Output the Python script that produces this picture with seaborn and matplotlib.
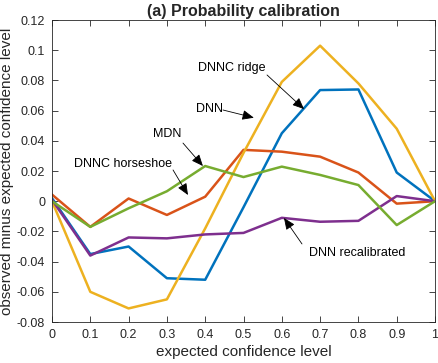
import numpy as np
import pandas as pd
import matplotlib
matplotlib.use('Agg')
import matplotlib.pyplot as plt
import seaborn as sns

# expected confidence level
conf = [0, 0.1, 0.2, 0.3, 0.4, 0.5, 0.6, 0.7, 0.8, 0.9, 1.0]

# observed minus expected
dnnc_ridge = [0.002, -0.035, -0.030, -0.051, -0.052, -0.004, 0.045, 0.0736, 0.074, 0.019, 0.0]
dnnc_horseshoe = [0.0044, -0.017, 0.0018, -0.0091, 0.003, 0.034, 0.0328, 0.0295, 0.019, -0.0016, 0.0]
dnn = [0.0, -0.060, -0.071, -0.065, -0.018, 0.032, 0.079, 0.103, 0.078, 0.048, 0.0]
dnn_recal = [0.001, -0.036, -0.024, -0.0246, -0.022, -0.021, -0.011, -0.0136, -0.013, 0.0034, 0.0]
mdn = [0.0, -0.017, -0.0047, 0.0066, 0.0233, 0.016, 0.0229, 0.0174, 0.0107, -0.0158, 0.0]

series = ['DNNC ridge', 'DNNC horseshoe', 'DNN', 'DNN recalibrated', 'MDN']
values = [dnnc_ridge, dnnc_horseshoe, dnn, dnn_recal, mdn]
colors = ['#0072BD', '#D95319', '#EDB120', '#7E2F8E', '#77AC30']

xticks = [0, 0.1, 0.2, 0.3, 0.4, 0.5, 0.6, 0.7, 0.8, 0.9, 1.0]
xticklabels = ['0', '0.1', '0.2', '0.3', '0.4', '0.5', '0.6', '0.7', '0.8', '0.9', '1']
yticks = [-0.08, -0.06, -0.04, -0.02, 0, 0.02, 0.04, 0.06, 0.08, 0.1, 0.12]
yticklabels = ['-0.08', '-0.06', '-0.04', '-0.02', '0', '0.02', '0.04', '0.06', '0.08', '0.1', '0.12']

rows = []
for name, vals in zip(series, values):
    for c, v in zip(conf, vals):
        rows.append({'conf': c, 'diff': v, 'model': name})
df = pd.DataFrame(rows)

sns.set_style('ticks')
plt.rcParams['font.family'] = ['Liberation Sans', 'DejaVu Sans']
plt.rcParams['axes.unicode_minus'] = False

fig = plt.figure(figsize=(4.38, 3.63), dpi=100)
ax = fig.add_axes([0.1187, 0.1129, 0.8745, 0.832])

sns.lineplot(data=df, x='conf', y='diff', hue='model', hue_order=series,
             palette=colors, lw=1.8, legend=False, ax=ax)

ax.set_xlim(0, 1)
ax.set_ylim(-0.08, 0.12)
ax.set_xticks(xticks)
ax.set_xticklabels(xticklabels)
ax.set_yticks(yticks)
ax.set_yticklabels(yticklabels)

axc = '#262626'
for s in ax.spines.values():
    s.set_visible(True)
    s.set_color(axc)
    s.set_linewidth(0.6)
ax.tick_params(direction='in', length=4, width=0.6, color=axc, labelcolor=axc,
               labelsize=9, top=True, right=True, pad=5)

ax.set_xlabel('expected confidence level', fontsize=11, color=axc, labelpad=3)
ax.set_ylabel('observed minus expected confidence level', fontsize=11, color=axc, labelpad=2)
ax.set_title('(a) Probability calibration', fontsize=11.5, fontweight='bold', pad=3)

arrow = dict(arrowstyle='-|>,head_length=0.7,head_width=0.3', color='k', lw=0.6,
             shrinkA=0, shrinkB=0)
# label, text centre, arrow tail, arrow tip (data coordinates)
notes = [
    ('DNNC ridge', (0.4684, 0.0882), (0.5614, 0.0836), (0.658, 0.061)),
    ('DNN', (0.4125, 0.0611), (0.4465, 0.0604), (0.527, 0.0553)),
    ('MDN', (0.3016, 0.0445), (0.342, 0.0385), (0.394, 0.0233)),
    ('DNNC horseshoe', (0.1854, 0.0246), (0.316, 0.0207), (0.355, 0.0041)),
    ('DNN recalibrated', (0.7963, -0.0341), (0.6527, -0.0283), (0.6057, -0.0111)),
]
for label, tpos, tail, tip in notes:
    ax.text(tpos[0], tpos[1], label, fontsize=9, ha='center', va='center', color='k')
    ax.annotate('', xy=tip, xytext=tail, arrowprops=arrow)

fig.savefig('out.png', dpi=100)
